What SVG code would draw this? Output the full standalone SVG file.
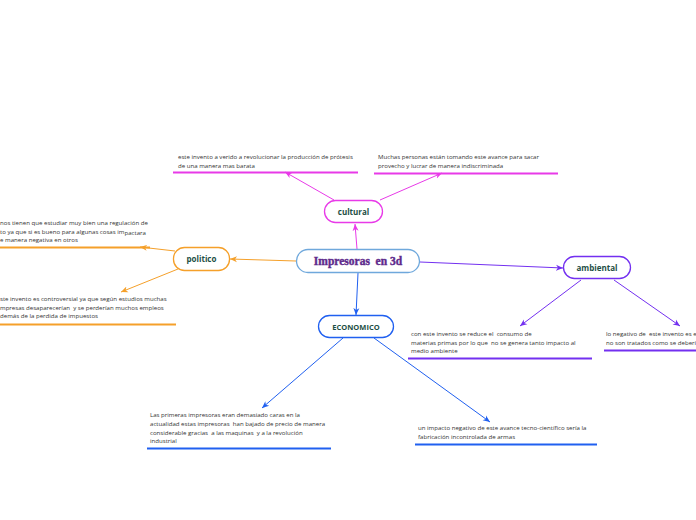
<svg xmlns="http://www.w3.org/2000/svg" width="696" height="520" viewBox="0 0 696 520">
<style>
text{white-space:pre}
.t{font-family:"Open Sans","Liberation Sans",sans-serif;font-size:6.1px;fill:#333}
.n{font-family:"Open Sans","Liberation Sans",sans-serif;font-size:8px;font-weight:bold;fill:#1d4f45;text-anchor:middle}
.box{fill:#fff;stroke-width:1.3}
.ln{fill:none;stroke-width:1}
.ul{stroke-width:2}
</style>
<defs>
<marker id="am" markerWidth="8" markerHeight="8" refX="7" refY="4" orient="auto" markerUnits="userSpaceOnUse"><path d="M0,1 L7,4 L0,7 L2,4 Z" fill="#e83ae8"/></marker>
<marker id="ao" markerWidth="8" markerHeight="8" refX="7" refY="4" orient="auto" markerUnits="userSpaceOnUse"><path d="M0,1 L7,4 L0,7 L2,4 Z" fill="#f5a02a"/></marker>
<marker id="ap" markerWidth="8" markerHeight="8" refX="7" refY="4" orient="auto" markerUnits="userSpaceOnUse"><path d="M0,1 L7,4 L0,7 L2,4 Z" fill="#7330f0"/></marker>
<marker id="ab" markerWidth="8" markerHeight="8" refX="7" refY="4" orient="auto" markerUnits="userSpaceOnUse"><path d="M0,1 L7,4 L0,7 L2,4 Z" fill="#2060f0"/></marker>
</defs>
<rect width="696" height="520" fill="#fff"/>
<g id="connectors">
<line class="ln" x1="357" y1="249" x2="355" y2="224" stroke="#e83ae8" marker-end="url(#am)"/>
<line class="ln" x1="296" y1="261" x2="230" y2="259" stroke="#f5a02a" marker-end="url(#ao)"/>
<line class="ln" x1="420" y1="262" x2="563" y2="268" stroke="#7330f0" marker-end="url(#ap)"/>
<line class="ln" x1="358" y1="273" x2="356" y2="315" stroke="#2060f0" marker-end="url(#ab)"/>
<line class="ln" x1="334" y1="200" x2="285" y2="172" stroke="#e83ae8" marker-end="url(#am)"/>
<line class="ln" x1="380" y1="200" x2="442" y2="173" stroke="#e83ae8" marker-end="url(#am)"/>
<line class="ln" x1="175" y1="251" x2="140" y2="247" stroke="#f5a02a" marker-end="url(#ao)"/>
<line class="ln" x1="178" y1="269" x2="121" y2="292" stroke="#f5a02a" marker-end="url(#ao)"/>
<line class="ln" x1="581" y1="280" x2="520" y2="326" stroke="#7330f0" marker-end="url(#ap)"/>
<line class="ln" x1="614" y1="280" x2="680" y2="326" stroke="#7330f0" marker-end="url(#ap)"/>
<line class="ln" x1="343" y1="338" x2="262" y2="408" stroke="#2060f0" marker-end="url(#ab)"/>
<line class="ln" x1="374" y1="338" x2="490" y2="422" stroke="#2060f0" marker-end="url(#ab)"/>
</g>
<g id="center">
<rect class="box" x="296.5" y="249.5" width="123" height="23" rx="11.5" stroke="#6fa8dc"/>
<text x="358" y="265" text-anchor="middle" style="font-family:'Liberation Serif',serif;font-size:11.5px;font-weight:bold;fill:#5e2a8c;stroke:#5e2a8c;stroke-width:0.4">Impresoras  en 3d</text>
</g>
<g id="cultural">
<rect class="box" x="324.5" y="200.5" width="58" height="22" rx="11" stroke="#e83ae8"/>
<text class="n" x="353.5" y="215">cultural</text>
</g>
<g id="politico">
<rect class="box" x="173.5" y="247.5" width="56" height="23" rx="11" stroke="#f5a02a"/>
<text class="n" x="201.5" y="262">politico</text>
</g>
<g id="ambiental">
<rect class="box" x="563.5" y="256.5" width="67" height="22" rx="11" stroke="#7330f0"/>
<text class="n" x="597" y="271">ambiental</text>
</g>
<g id="economico">
<rect class="box" x="318.5" y="315.5" width="75" height="22" rx="11" stroke="#2060f0"/>
<text class="n" x="356" y="330" style="font-size:7.5px">ECONOMICO</text>
</g>
<g id="t-cultural-1">
<text class="t" x="178" y="159">este invento a verido a revolucionar la producción de prótesis</text>
<text class="t" x="178" y="168">de una manera mas barata</text>
<line class="ul" x1="173" y1="172.5" x2="358" y2="172.5" stroke="#e83ae8"/>
</g>
<g id="t-cultural-2">
<text class="t" x="378" y="159">Muchas personas están tomando este avance para sacar</text>
<text class="t" x="378" y="168">provecho y lucrar de manera indiscriminada</text>
<line class="ul" x1="374" y1="173.5" x2="558" y2="173.5" stroke="#e83ae8"/>
</g>
<g id="t-politico-1">
<text class="t" x="0" y="225">nos tienen que estudiar muy bien una regulación de</text>
<text class="t" x="0" y="234">to ya que si es bueno para algunas cosas im<tspan dy="1">pactara</tspan></text>
<text class="t" x="0" y="242">e manera negativa en otros</text>
<line class="ul" x1="0" y1="247.5" x2="150" y2="247.5" stroke="#f5a02a"/>
</g>
<g id="t-politico-2">
<text class="t" x="0" y="301">ste invento es controversial ya que según e<tspan dy="-0.5">studios muchas</tspan></text>
<text class="t" x="0" y="310">mpresas desaparecerían  y se perderían muchos empleos</text>
<text class="t" x="0" y="318">demás de la perdida de impuestos</text>
<line class="ul" x1="0" y1="324.5" x2="176" y2="324.5" stroke="#f5a02a"/>
</g>
<g id="t-ambiental-1">
<text class="t" x="411" y="336">con este invento se reduce el  consumo de</text>
<text class="t" x="411" y="345">materias primas por lo que  no se genera tanto impacto al</text>
<text class="t" x="411" y="353">medio ambiente</text>
<line class="ul" x1="408" y1="358.5" x2="592" y2="358.5" stroke="#7330f0"/>
</g>
<g id="t-ambiental-2">
<text class="t" x="606" y="336">lo negativo de  este invento es e</text>
<text class="t" x="606" y="345">no son tratados como se deberí</text>
<line class="ul" x1="604" y1="350.5" x2="696" y2="350.5" stroke="#7330f0"/>
</g>
<g id="t-economico-1">
<text class="t" x="150" y="417">Las primeras impresoras eran demasiado caras en la</text>
<text class="t" x="150" y="426">actualidad estas impresoras  han bajado de precio de manera</text>
<text class="t" x="150" y="435">considerable gracias  a las maquinas  y a la revolución</text>
<text class="t" x="150" y="443">industrial</text>
<line class="ul" x1="147" y1="448.5" x2="331" y2="448.5" stroke="#2060f0"/>
</g>
<g id="t-economico-2">
<text class="t" x="418" y="430">un impacto negativo de este avance tecno-científico sería la</text>
<text class="t" x="418" y="439">fabricación incontrolada de armas</text>
<line class="ul" x1="415" y1="444.5" x2="597" y2="444.5" stroke="#2060f0"/>
</g>
</svg>
